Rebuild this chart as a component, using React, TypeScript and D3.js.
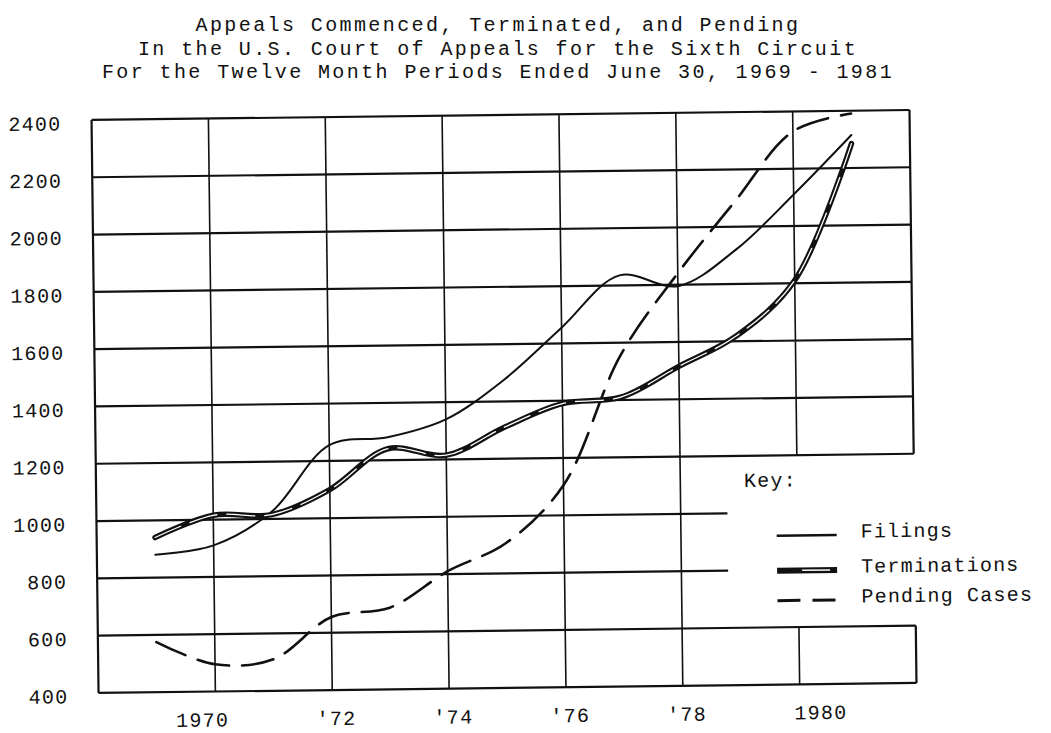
import * as d3 from "d3";
import React, { useRef, useEffect } from "react";

// twelve month periods ended June 30
const years = [1969, 1970, 1971, 1972, 1973, 1974, 1975, 1976, 1977, 1978, 1979, 1980, 1981];
const filings = [880, 910, 1025, 1255, 1280, 1340, 1475, 1655, 1835, 1795, 1920, 2110, 2315];
const terminations = [940, 1015, 1015, 1100, 1240, 1215, 1310, 1390, 1410, 1515, 1620, 1810, 2285];
const pending = [575, 495, 510, 655, 685, 810, 905, 1105, 1555, 1840, 2090, 2330, 2390];

const yTicks = [400, 600, 800, 1000, 1200, 1400, 1600, 1800, 2000, 2200, 2400];
const xTicks = [1970, 1972, 1974, 1976, 1978, 1980];
const xTickLabels = ["1970", "'72", "'74", "'76", "'78", "1980"];

const titleLines = [
    "Appeals Commenced, Terminated, and Pending",
    "In the U.S. Court of Appeals for the Sixth Circuit",
    "For the Twelve Month Periods Ended June 30, 1969 - 1981",
];
const keyLabels = ["Filings", "Terminations", "Pending Cases"];

const App = () => {
    const ref = useRef<HTMLDivElement>(null);

    useEffect(() => {
        const width = 1051;
        const height = 733;
        const left = 95, right = 913, top = 115, bottom = 688;
        const font = "'Liberation Mono', 'DejaVu Sans Mono', monospace";

        const x = d3.scaleLinear().domain([1968, 1982]).range([left, right]);
        const y = d3.scaleLinear().domain([400, 2400]).range([bottom, top]);

        const svg = d3.create("svg")
            .attr("width", width)
            .attr("height", height)
            .style("position", "absolute")
            .style("left", "0px")
            .style("top", "0px")
            .style("background", "#fff");

        // title (kept level)
        svg.append("g")
            .attr("font-family", font)
            .attr("font-size", 20)
            .attr("letter-spacing", 2.4)
            .attr("fill", "#111")
            .selectAll("text")
            .data(titleLines)
            .join("text")
            .attr("x", 498)
            .attr("y", (d, i) => 31 + i * 23.5)
            .attr("text-anchor", "middle")
            .text(d => d);

        // the scanned page sits slightly askew
        const g = svg.append("g").attr("transform", "rotate(-0.7 500 400)");

        // grid: the 800 / 1000 rows and the 1980 column leave room for the key
        const keyGap = x(1978.8);
        const grid = g.append("g").attr("stroke", "#111").attr("fill", "none");

        grid.selectAll("line.h")
            .data(yTicks)
            .join("line")
            .attr("class", "h")
            .attr("x1", left)
            .attr("x2", d => (d === 800 || d === 1000) ? keyGap : right)
            .attr("y1", d => y(d))
            .attr("y2", d => y(d))
            .attr("stroke-width", 2.2);

        const vSegments: [number, number, number][] = [];
        [1968, ...xTicks, 1982].forEach(t => {
            if (t === 1980 || t === 1982) {
                vSegments.push([t, 2400, 1200]);
                vSegments.push([t, 600, 400]);
            } else {
                vSegments.push([t, 2400, 400]);
            }
        });
        grid.selectAll("line.v")
            .data(vSegments)
            .join("line")
            .attr("class", "v")
            .attr("x1", d => x(d[0]))
            .attr("x2", d => x(d[0]))
            .attr("y1", d => y(d[1]))
            .attr("y2", d => y(d[2]))
            .attr("stroke-width", d => (d[0] === 1968 || d[0] === 1982) ? 2.2 : 1.6);

        // axis labels
        g.append("g")
            .attr("font-family", font)
            .attr("font-size", 20)
            .attr("letter-spacing", 1.3)
            .attr("fill", "#111")
            .selectAll("text")
            .data(yTicks)
            .join("text")
            .attr("x", 65)
            .attr("y", d => y(d) + 3)
            .attr("dy", "0.35em")
            .attr("text-anchor", "end")
            .text(d => d);

        g.append("g")
            .attr("font-family", font)
            .attr("font-size", 20)
            .attr("letter-spacing", 1.3)
            .attr("fill", "#111")
            .selectAll("text")
            .data(xTicks)
            .join("text")
            .attr("x", (d, i) => {
                const lab = xTickLabels[i];
                if (lab.startsWith("'")) return x(d) + 4;
                return x(d) + (d < 1975 ? -13 : 21);
            })
            .attr("y", 723)
            .attr("text-anchor", "middle")
            .text((d, i) => xTickLabels[i]);

        // series
        const line = d3.line<number>()
            .x((d, i) => x(years[i]))
            .y(d => y(d))
            .curve(d3.curveCatmullRom.alpha(0.5));

        const series = g.append("g").attr("fill", "none").attr("stroke-linecap", "round");

        series.append("path")
            .attr("d", line(pending))
            .attr("stroke", "#111")
            .attr("stroke-width", 2.6)
            .attr("stroke-dasharray", "32 13");

        series.append("path")
            .attr("d", line(filings))
            .attr("stroke", "#111")
            .attr("stroke-width", 2);

        series.append("path")
            .attr("d", line(terminations))
            .attr("stroke", "#111")
            .attr("stroke-width", 5.5);
        series.append("path")
            .attr("d", line(terminations))
            .attr("stroke", "#fff")
            .attr("stroke-width", 1.3)
            .attr("stroke-dasharray", "28 10");

        // key
        const key = g.append("g")
            .attr("font-family", font)
            .attr("font-size", 20)
            .attr("letter-spacing", 1.2)
            .attr("fill", "#111");
        key.append("text").attr("x", 743).attr("y", 490).text("Key:");

        const rowY = [542, 577, 607];
        key.selectAll("text.lab")
            .data(keyLabels)
            .join("text")
            .attr("class", "lab")
            .attr("x", 859)
            .attr("y", (d, i) => rowY[i])
            .text(d => d);

        const kx0 = 775, kx1 = 835;
        key.append("line")
            .attr("x1", kx0).attr("x2", kx1)
            .attr("y1", rowY[0] - 3).attr("y2", rowY[0] - 3)
            .attr("stroke", "#111").attr("stroke-width", 2.5);
        key.append("line")
            .attr("x1", kx0).attr("x2", kx1)
            .attr("y1", rowY[1] - 3).attr("y2", rowY[1] - 3)
            .attr("stroke", "#111").attr("stroke-width", 6);
        key.append("line")
            .attr("x1", 800).attr("x2", 828)
            .attr("y1", rowY[1] - 3).attr("y2", rowY[1] - 3)
            .attr("stroke", "#fff").attr("stroke-width", 1.6);
        key.append("line")
            .attr("x1", kx0).attr("x2", kx1)
            .attr("y1", rowY[2] - 3).attr("y2", rowY[2] - 3)
            .attr("stroke", "#111").attr("stroke-width", 3)
            .attr("stroke-dasharray", "23 12");

        if (ref.current) {
            ref.current.innerHTML = "";
            ref.current.appendChild(svg.node() as SVGSVGElement);
        }
    }, []);

    return <div ref={ref}></div>;
};

export default App;
